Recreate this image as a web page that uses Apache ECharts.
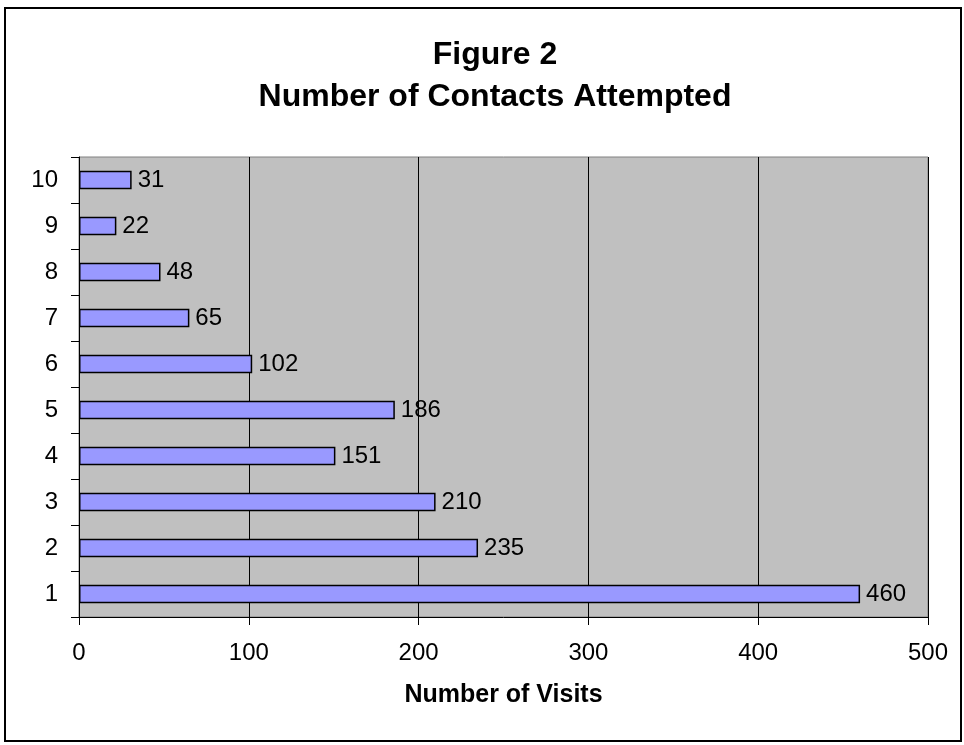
<!DOCTYPE html>
<html>
<head>
<meta charset="utf-8">
<script src="https://cdn.jsdelivr.net/npm/echarts@6/dist/echarts.min.js"></script>
<style>
    html, body { margin: 0; padding: 0; background: #fff; }
    #frame { position: absolute; left: 4px; top: 7px; width: 954px; height: 731px; border: 2px solid #000; }
    #chart { position: absolute; left: 0; top: 0; width: 964px; height: 745px; }
</style>
</head>
<body>
<div id="frame"></div>
<div id="chart"></div>
<script>
    // contacts attempted (1..10) and number of visits
    let categories = ['1', '2', '3', '4', '5', '6', '7', '8', '9', '10'];
    let visits = [460, 235, 210, 151, 186, 102, 65, 48, 22, 31];
    let xTicks = [0, 100, 200, 300, 400, 500];

    let myChart = echarts.init(document.getElementById('chart'));
    const font = 'Liberation Sans, Arial, sans-serif';
    const option = {
        animation: false,
        title: {
            text: 'Figure 2\nNumber of Contacts Attempted',
            left: 490,
            textAlign: 'center',
            top: 29,
            textStyle: {
                fontFamily: font,
                fontSize: 32,
                fontWeight: 'bold',
                color: '#000',
                lineHeight: 42
            }
        },
        grid: {
            left: 79,
            right: 36,
            top: 157,
            bottom: 128,
            show: true,
            backgroundColor: '#c0c0c0',
            borderColor: '#808080',
            borderWidth: 1
        },
        xAxis: {
            type: 'value',
            min: xTicks[0],
            max: xTicks[xTicks.length - 1],
            interval: 100,
            name: 'Number of Visits',
            nameLocation: 'middle',
            nameGap: 66,
            nameTextStyle: { fontFamily: font, fontSize: 25, fontWeight: 'bold', color: '#000' },
            axisLine: { show: true, lineStyle: { color: '#000', width: 1 } },
            axisTick: { show: true, length: 8, lineStyle: { color: '#000' } },
            axisLabel: { fontFamily: font, fontSize: 24, color: '#000', margin: 24 },
            splitLine: { show: true, lineStyle: { color: '#000', width: 1 } }
        },
        yAxis: {
            type: 'category',
            data: categories,
            axisLine: { show: true, lineStyle: { color: '#000', width: 1 } },
            axisTick: { show: true, length: 8, lineStyle: { color: '#000' } },
            axisLabel: { fontFamily: font, fontSize: 24, color: '#000', margin: 21 },
            splitLine: { show: false }
        },
        series: [{
            type: 'bar',
            data: visits,
            barWidth: '40%',
            itemStyle: { color: '#9999ff', borderColor: '#000', borderWidth: 1.5 },
            label: {
                show: true,
                position: 'right',
                distance: 6,
                fontFamily: font,
                fontSize: 24,
                color: '#000'
            }
        }]
    };
    myChart.setOption(option);
</script>
</body>
</html>
